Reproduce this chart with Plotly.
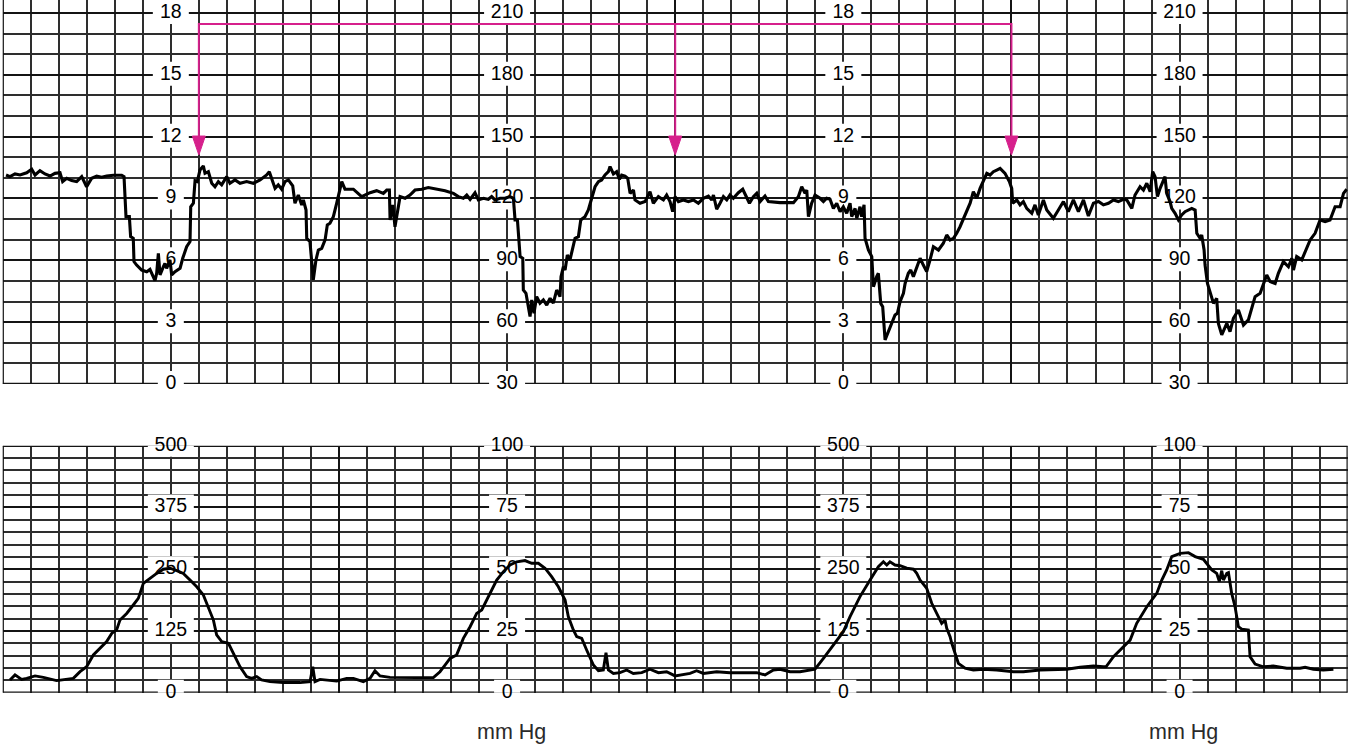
import plotly.graph_objects as go

# ---------------- data ----------------
# time in seconds (20 s per small grid square), FHR in bpm
fhr_t = [2.4, 5.2, 8.8, 12.4, 17.1, 20.7, 23.1, 26.6, 30.2, 33.8, 37.3, 40.9, 42.8, 45.7, 49.2, 52.8, 56.4, 59.9, 63.5, 67.1,
         70.6, 74.2, 79.0, 84.9, 86.6, 88.0, 90.4, 91.3, 93.2, 93.7, 95.6, 99.2, 102.8, 105.1, 108.7, 109.9, 111.1, 112.3, 114.7, 115.8,
         117.0, 119.4, 120.6, 123.0, 126.6, 128.5, 131.3, 133.7, 134.2, 136.1, 137.3, 138.9, 140.8, 143.2, 144.4, 146.8, 149.2, 151.5, 153.9, 156.3,
         159.9, 162.2, 165.8, 169.4, 174.1, 178.9, 183.7, 188.4, 190.3, 192.0, 194.4, 196.7, 199.1, 201.5, 203.9, 207.0, 208.6, 211.0, 213.4, 214.6,
         216.5, 217.0, 219.3, 221.7, 223.6, 225.3, 227.7, 230.1, 231.7, 233.6, 236.0, 238.4, 240.8, 242.0, 244.3, 250.3, 256.2, 262.2, 266.9, 271.7,
         274.1, 276.0, 276.5, 278.4, 280.0, 282.4, 283.6, 287.2, 290.7, 294.3, 299.1, 303.8, 309.8, 315.7, 321.7, 325.2, 328.8, 331.2, 333.6, 337.1,
         339.5, 343.1, 346.6, 349.0, 351.4, 355.0, 358.5, 362.1, 364.5, 365.7, 367.4, 369.3, 371.2, 371.6, 373.5, 375.2, 376.4, 377.6, 379.2, 381.1,
         383.5, 385.9, 388.3, 390.7, 393.0, 395.4, 397.8, 398.5, 400.2, 401.4, 403.0, 404.9, 406.8, 408.5, 410.9, 412.6, 415.6, 418.0, 420.4, 422.8,
         425.2, 427.5, 429.9, 432.3, 433.5, 435.9, 438.2, 440.2, 441.8, 444.2, 446.1, 447.8, 450.2, 451.3, 454.9, 458.5, 462.0, 464.4, 468.0, 471.6,
         473.9, 476.3, 478.2, 479.9, 482.3, 485.8, 489.4, 493.0, 496.5, 500.1, 503.7, 506.1, 507.3, 509.6, 512.0, 514.4, 516.8, 519.1, 521.5, 525.1,
         528.2, 530.6, 533.0, 535.8, 538.2, 540.6, 544.1, 546.5, 554.8, 564.4, 567.9, 570.3, 572.7, 573.9, 575.1, 577.4, 579.8, 583.4, 585.8, 588.1,
         590.5, 592.9, 595.3, 597.7, 600.0, 602.4, 604.8, 606.0, 608.4, 609.6, 611.9, 613.1, 614.8, 615.5, 617.9, 620.3, 621.5, 623.8, 625.0, 626.7,
         628.1, 629.8, 632.2, 634.5, 636.9, 638.6, 640.5, 642.9, 644.1, 646.4, 648.1, 650.0, 652.4, 654.8, 657.1, 659.5, 661.9, 664.3, 667.9, 671.4,
         673.8, 676.2, 678.6, 680.9, 683.3, 685.7, 688.1, 690.5, 692.8, 695.2, 697.6, 700.0, 702.4, 704.7, 707.1, 709.5, 711.9, 715.4, 718.5, 720.2,
         720.9, 723.8, 726.1, 728.5, 730.9, 734.5, 736.8, 739.2, 742.8, 745.2, 749.9, 753.5, 757.1, 760.6, 764.2, 767.8, 771.4, 774.9, 778.5, 782.1,
         785.6, 789.2, 792.8, 796.3, 799.9, 802.3, 805.9, 808.2, 811.8, 814.2, 816.6, 819.0, 820.8, 822.5, 824.2, 826.1, 828.5, 829.6, 830.8, 833.2,
         834.4, 836.8, 839.2, 841.5, 843.9, 846.3, 848.7, 851.1, 852.3, 854.6, 855.8, 857.5, 858.2, 859.9, 861.8, 864.2, 866.5, 867.7, 870.1, 873.7,
         876.0, 878.4, 882.0, 885.6, 889.1, 891.5, 893.9, 897.5, 899.8, 902.2, 904.6, 908.2, 910.5, 914.1, 917.7, 920.1, 921.3, 923.6, 927.2, 929.6,
         933.2, 936.7, 940.3, 943.9, 947.4, 951.0, 954.6, 957.0, 959.3]
fhr_bpm = [131.4, 130.6, 131.9, 131.4, 132.5, 134.2, 131.4, 133.5, 131.9, 130.9, 132.2, 132.5, 128.2, 129.8, 128.7, 128.2, 130.6, 125.7, 129.8, 130.9,
           130.3, 130.9, 131.3, 131.3, 130.6, 111.2, 111.2, 101.5, 100.7, 89.4, 87.7, 85.3, 84.5, 85.6, 80.1, 83.7, 93.4, 82.9, 86.9, 88.5,
           86.1, 90.2, 82.9, 84.5, 86.1, 91.0, 96.6, 99.1, 116.0, 117.7, 128.7, 128.2, 133.8, 135.8, 132.2, 133.0, 127.4, 125.7, 128.2, 126.6,
           130.6, 127.4, 129.0, 127.4, 128.2, 127.4, 129.0, 131.4, 133.0, 129.8, 124.9, 126.6, 124.5, 128.2, 129.0, 126.1, 117.7, 121.7, 116.9, 119.3,
           114.4, 100.7, 99.1, 80.5, 90.2, 95.0, 95.8, 99.9, 107.2, 108.0, 111.2, 117.7, 124.1, 128.2, 124.5, 124.5, 120.9, 122.8, 123.8, 122.5,
           124.1, 124.1, 109.6, 116.9, 106.3, 117.7, 120.9, 120.1, 121.7, 124.1, 124.5, 125.3, 124.5, 123.8, 122.5, 120.9, 120.1, 121.7, 119.6, 122.8,
           119.3, 120.1, 119.6, 120.9, 119.3, 120.1, 120.1, 120.9, 120.1, 109.6, 109.6, 91.8, 91.0, 75.6, 74.0, 67.5, 62.7, 70.8, 64.3, 72.4,
           69.2, 70.8, 68.3, 71.6, 69.2, 75.6, 72.4, 82.1, 86.9, 85.3, 92.6, 90.2, 96.6, 100.7, 101.5, 109.6, 111.2, 114.4, 120.1, 125.7,
           128.2, 129.0, 131.4, 133.0, 135.5, 131.9, 133.0, 129.3, 131.4, 130.9, 129.8, 122.5, 124.1, 119.3, 117.7, 118.5, 123.3, 117.7, 120.9, 119.3,
           121.7, 118.5, 113.6, 120.9, 118.5, 119.3, 118.5, 119.3, 117.7, 120.1, 121.2, 119.3, 121.7, 114.8, 117.7, 120.9, 119.3, 121.7, 120.1, 122.8,
           124.5, 120.9, 117.7, 120.9, 122.5, 118.5, 121.2, 118.5, 118.0, 118.0, 120.9, 125.7, 122.5, 124.1, 111.2, 117.7, 121.7, 120.1, 118.5, 120.1,
           119.6, 115.2, 117.7, 113.6, 116.0, 112.8, 117.7, 111.2, 115.2, 110.4, 116.0, 111.2, 116.9, 100.7, 95.0, 91.8, 77.2, 82.1, 83.7, 69.1,
           67.5, 51.4, 55.4, 59.4, 63.5, 64.3, 70.0, 74.0, 78.8, 83.7, 85.3, 82.1, 86.1, 91.0, 87.7, 84.5, 90.2, 96.6, 95.0, 98.3,
           102.3, 99.9, 100.7, 103.1, 106.3, 110.4, 113.6, 117.7, 123.3, 120.1, 124.9, 129.0, 132.2, 131.4, 133.0, 133.8, 134.6, 132.2, 128.2, 124.9,
           117.7, 119.3, 116.9, 118.5, 115.2, 112.8, 116.9, 112.0, 119.3, 114.4, 110.4, 114.4, 118.5, 113.6, 119.3, 113.6, 119.3, 111.5, 117.7, 118.5,
           116.9, 117.7, 119.3, 118.5, 119.6, 119.3, 115.2, 121.7, 125.7, 124.1, 127.4, 123.3, 133.0, 130.6, 120.9, 124.9, 129.0, 130.6, 122.5, 118.5,
           115.2, 112.8, 109.6, 112.0, 113.6, 114.4, 115.2, 114.4, 103.1, 100.7, 102.3, 95.0, 87.7, 78.8, 74.0, 69.1, 71.6, 59.4, 53.8, 59.4,
           55.4, 61.9, 65.9, 58.6, 61.1, 66.7, 72.4, 74.0, 78.0, 82.9, 79.7, 78.8, 83.7, 89.4, 86.9, 91.0, 85.3, 91.8, 90.2, 94.2,
           99.9, 103.1, 109.6, 108.8, 109.6, 116.0, 116.0, 122.5, 124.5]

# uterine activity (mm Hg)
toco_t = [5.2, 8.8, 13.5, 17.1, 23.1, 29.0, 38.5, 50.4, 55.2, 59.9, 64.7, 69.5, 74.2, 77.8, 81.3, 83.7, 88.5, 93.2, 96.8, 100.4,
          105.1, 109.9, 114.7, 119.4, 124.2, 128.9, 133.7, 138.5, 143.2, 146.8, 150.4, 152.7, 156.3, 161.1, 164.6, 169.4, 174.1, 177.7, 181.3, 184.8,
          190.8, 200.3, 212.2, 219.4, 221.3, 222.9, 226.5, 233.6, 238.4, 245.5, 250.3, 257.4, 262.2, 265.7, 269.3, 276.4, 283.6, 295.5, 307.4, 312.1,
          315.7, 319.3, 324.0, 328.8, 333.6, 338.3, 341.9, 345.5, 349.0, 352.6, 357.4, 362.1, 366.9, 372.8, 377.6, 382.3, 387.1, 391.8, 396.6, 401.4,
          403.7, 407.3, 409.7, 413.3, 416.8, 421.6, 425.2, 428.7, 430.6, 432.3, 435.9, 440.6, 445.4, 450.1, 456.1, 462.0, 468.0, 473.9, 479.9, 485.8,
          490.6, 495.3, 500.1, 509.6, 519.1, 528.7, 538.2, 544.1, 550.1, 554.8, 562.0, 569.1, 576.2, 579.8, 585.8, 592.9, 600.0, 604.8, 611.9, 619.1,
          625.0, 628.6, 631.0, 633.3, 636.9, 640.5, 645.3, 650.0, 652.4, 654.8, 659.5, 663.1, 666.7, 669.0, 670.2, 672.6, 673.8, 676.2, 677.4, 679.8,
          682.1, 686.9, 692.8, 700.0, 709.5, 721.4, 728.5, 740.4, 759.5, 769.0, 778.5, 785.6, 787.5, 792.8, 799.9, 804.7, 809.4, 816.6, 823.7, 827.3,
          830.8, 834.4, 840.4, 846.3, 851.1, 857.0, 863.0, 866.5, 868.4, 870.1, 871.3, 873.7, 874.9, 877.2, 879.6, 882.0, 884.4, 889.1, 890.3, 893.9,
          899.8, 906.9, 916.5, 926.0, 929.6, 935.5, 942.6, 949.8]
toco_mmhg = [5.1, 7.2, 5.4, 5.8, 6.8, 6.2, 4.9, 5.8, 8.5, 10.5, 15.3, 17.9, 20.7, 24.0, 25.4, 29.4, 32.1, 35.5, 38.2, 44.3,
             46.3, 48.3, 50.0, 50.4, 49.4, 48.3, 45.6, 42.9, 39.6, 34.8, 29.4, 23.4, 20.7, 20.0, 15.9, 10.5, 6.5, 5.8, 6.5, 5.2,
             4.5, 4.1, 4.1, 4.5, 10.5, 4.5, 5.4, 5.1, 4.7, 5.8, 5.8, 4.5, 5.8, 8.9, 6.8, 6.2, 6.1, 6.1, 6.1, 8.5,
             11.2, 13.9, 15.3, 22.0, 26.7, 32.1, 33.5, 37.5, 41.6, 45.6, 49.0, 51.7, 53.0, 53.5, 52.4, 52.4, 50.4, 47.0, 42.9, 37.5,
             30.8, 25.4, 22.7, 22.0, 17.3, 11.2, 8.9, 9.2, 16.2, 9.2, 7.8, 8.1, 9.2, 7.8, 8.1, 9.5, 8.1, 8.5, 6.8, 7.2,
             7.8, 8.9, 7.8, 8.5, 8.1, 8.1, 8.1, 7.2, 9.2, 9.5, 8.5, 8.5, 9.2, 9.5, 13.9, 19.3, 24.7, 30.8, 38.9, 45.6,
             51.0, 53.0, 51.7, 53.0, 51.7, 51.4, 50.4, 50.0, 48.3, 45.6, 42.3, 36.2, 32.1, 30.1, 28.1, 29.4, 26.1, 22.7, 20.0, 15.9,
             11.9, 9.9, 9.2, 9.5, 9.2, 8.5, 8.5, 9.2, 9.5, 10.3, 10.8, 10.5, 10.5, 14.6, 18.6, 21.3, 28.1, 34.8, 40.2, 45.6,
             49.7, 55.1, 56.4, 56.7, 55.1, 54.0, 49.7, 48.3, 45.0, 49.4, 45.6, 48.3, 48.6, 40.2, 34.8, 26.7, 25.7, 25.4, 14.6, 11.6,
             10.5, 10.8, 9.9, 9.9, 10.3, 9.5, 9.2, 9.5]

# scale labels
fhr_label_values = [30, 60, 90, 120, 150, 180, 210]          # bpm positions
fhr_left_labels = ["0", "3", "6", "9", "12", "15", "18"]
fhr_right_labels = ["30", "60", "90", "120", "150", "180", "210"]
toco_label_values = [0, 25, 50, 75, 100]
toco_left_labels = ["0", "125", "250", "375", "500"]
toco_right_labels = ["0", "25", "50", "75", "100"]
left_label_cols = [120, 600]
right_label_cols = [360, 840]
unit_text = "mm Hg"

# pink markers
arrow_t = [140, 480, 720]
arrow_top_bpm = 204.7
arrow_base_bpm = 150.3

# ---------------- styling ----------------
X_RANGE = [0, 960]
FHR_RANGE = [30, 216.3]
TOCO_RANGE = [0, 100]
XDOM = [2.7 / 1351, 1347.7 / 1351]
FHR_DOM = [1 - 384 / 746, 1.0]
TOCO_DOM = [1 - 692.7 / 746, 1 - 445.7 / 746]
UNIT_Y = 1 - 731.5 / 746
GRID_MINOR = "#2e2e2e"
GRID_MAJOR = "#141414"
BORDER = "#141414"
PINK = "#d6208c"
FONT = "Liberation Sans, Arial, Helvetica, sans-serif"

fig = go.Figure()


def label_trace(cols, values, texts, xa, ya):
    xs, ys, ts = [], [], []
    for c in cols:
        for v, t in zip(values, texts):
            xs.append(c)
            ys.append(v)
            ts.append(t)
    return go.Scatter(x=xs, y=ys, text=ts, mode="text", textposition="middle center",
                      textfont=dict(family=FONT, size=19.5, color="#000000"),
                      xaxis=xa, yaxis=ya, cliponaxis=False, hoverinfo="skip", showlegend=False)


fig.add_trace(label_trace(left_label_cols, fhr_label_values, fhr_left_labels, "x", "y"))
fig.add_trace(label_trace(right_label_cols, fhr_label_values, fhr_right_labels, "x", "y"))
fig.add_trace(label_trace(left_label_cols, toco_label_values, toco_left_labels, "x2", "y2"))
fig.add_trace(label_trace(right_label_cols, toco_label_values, toco_right_labels, "x2", "y2"))

# pink bracket
bx = [arrow_t[0], arrow_t[0], arrow_t[-1], arrow_t[-1], None, arrow_t[1], arrow_t[1]]
by = [arrow_base_bpm, arrow_top_bpm, arrow_top_bpm, arrow_base_bpm, None, arrow_top_bpm, arrow_base_bpm]
fig.add_trace(go.Scatter(x=bx, y=by, mode="lines", line=dict(color=PINK, width=2),
                         xaxis="x", yaxis="y", hoverinfo="skip", showlegend=False, cliponaxis=False))

# traces
fig.add_trace(go.Scatter(x=fhr_t, y=fhr_bpm, mode="lines", line=dict(color="#000000", width=3.1),
                         xaxis="x", yaxis="y", showlegend=False))
fig.add_trace(go.Scatter(x=toco_t, y=toco_mmhg, mode="lines", line=dict(color="#000000", width=2.9),
                         xaxis="x2", yaxis="y2", showlegend=False))

shapes = []
# borders
for xr, yr, rng in [("x", "y", FHR_RANGE), ("x2", "y2", TOCO_RANGE)]:
    segs = [(X_RANGE[0], rng[0], X_RANGE[1], rng[0]),
            (X_RANGE[0], rng[0], X_RANGE[0], rng[1]),
            (X_RANGE[1], rng[0], X_RANGE[1], rng[1])]
    if xr == "x2":
        segs.append((X_RANGE[0], rng[1], X_RANGE[1], rng[1]))
    for x0, y0, x1, y1 in segs:
        shapes.append(dict(type="line", xref=xr, yref=yr, x0=x0, y0=y0, x1=x1, y1=y1,
                           line=dict(color=BORDER, width=2.4), layer="between"))


# white boxes behind labels
def add_boxes(cols, values, texts, xr, yr):
    for c in cols:
        for v, t in zip(values, texts):
            w = 10 * len(t) + 16
            shapes.append(dict(type="rect", xref=xr, yref=yr, xsizemode="pixel", ysizemode="pixel",
                               xanchor=c, yanchor=v, x0=-w / 2, x1=w / 2, y0=-11, y1=13,
                               fillcolor="white", line=dict(width=0), layer="between"))


add_boxes(left_label_cols, fhr_label_values, fhr_left_labels, "x", "y")
add_boxes(right_label_cols, fhr_label_values, fhr_right_labels, "x", "y")
add_boxes(left_label_cols, toco_label_values, toco_left_labels, "x2", "y2")
add_boxes(right_label_cols, toco_label_values, toco_right_labels, "x2", "y2")

# arrow heads
for a in arrow_t:
    shapes.append(dict(type="path", xref="x", yref="y", xsizemode="pixel", ysizemode="pixel",
                       xanchor=a, yanchor=arrow_base_bpm, path="M -6.5 0 L 6.5 0 L 0 -19 Z",
                       fillcolor=PINK, line=dict(color=PINK, width=1), layer="above"))

annotations = []
for c in right_label_cols:
    annotations.append(dict(x=c, y=UNIT_Y, xref="x2", yref="paper", text=unit_text, showarrow=False,
                            xshift=4, font=dict(family=FONT, size=21.5, color="#2a2a2a"),
                            xanchor="center", yanchor="middle"))


def xax(anchor):
    return dict(domain=XDOM, range=X_RANGE, anchor=anchor, showgrid=True, tick0=0, dtick=240,
                gridcolor=GRID_MAJOR, gridwidth=2.4, zeroline=False, showline=False,
                showticklabels=False, ticks="", fixedrange=True,
                minor=dict(tick0=0, dtick=20, showgrid=True, gridcolor=GRID_MINOR, gridwidth=1.6, ticks=""))


def yax(anchor, dom, rng, t0, major, minor):
    return dict(domain=dom, range=rng, anchor=anchor, showgrid=True, tick0=t0, dtick=major,
                gridcolor=GRID_MAJOR, gridwidth=1.9, zeroline=False, showline=False,
                showticklabels=False, ticks="", fixedrange=True,
                minor=dict(tick0=t0, dtick=minor, showgrid=True, gridcolor=GRID_MINOR, gridwidth=1.6, ticks=""))


fig.update_layout(
    width=1351, height=746,
    margin=dict(l=0, r=0, t=0, b=0),
    paper_bgcolor="white", plot_bgcolor="white",
    xaxis=xax("y"), yaxis=yax("x", FHR_DOM, FHR_RANGE, 30, 30, 10),
    xaxis2=xax("y2"), yaxis2=yax("x2", TOCO_DOM, TOCO_RANGE, 0, 25, 5),
    shapes=shapes, annotations=annotations, showlegend=False,
)

fig.write_html("out.html")
